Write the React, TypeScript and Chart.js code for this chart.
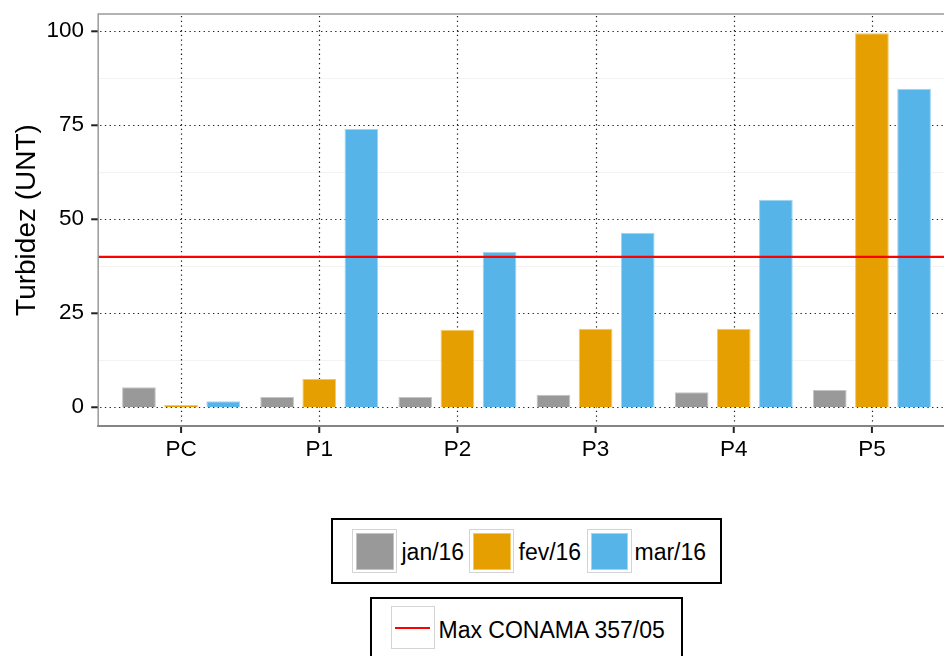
import React, { useEffect, useRef } from "react";
import { Chart, registerables } from "chart.js";

Chart.register(...registerables);

const CATEGORIES = ["PC", "P1", "P2", "P3", "P4", "P5"];
const SERIES_LABELS = ["jan/16", "fev/16", "mar/16"];
const JAN = [5.3, 2.7, 2.7, 3.35, 4.0, 4.6];
const FEV = [0.6, 7.5, 20.6, 20.9, 20.9, 99.5];
const MAR = [1.6, 74.0, 41.3, 46.4, 55.2, 84.7];
const Y_TICKS = [0, 25, 50, 75, 100];
const Y_MINOR = [12.5, 37.5, 62.5, 87.5];
const LIMIT = 40;
const LIMIT_LABEL = "Max CONAMA 357/05";
const Y_TITLE = "Turbidez (UNT)";

const COLORS = ["#999999", "#E69F00", "#56B4E9"];
const EDGES = ["#c4c4c4", "#f2c866", "#9fd4f3"];
const FONT = "'Liberation Sans', Arial, sans-serif";

const panelPlugin = {
  id: "panelPlugin",
  beforeDatasetsDraw(chart: any) {
    const { ctx, chartArea, scales } = chart;
    const x = scales.x;
    const y = scales.y;
    const cw = x.getPixelForValue(1) - x.getPixelForValue(0);
    const L = x.getPixelForValue(0) - 0.6 * cw;
    const R = x.getPixelForValue(CATEGORIES.length - 1) + 0.6 * cw;
    const T = chartArea.top;
    const B = chartArea.bottom;
    ctx.save();
    ctx.strokeStyle = "#f3f3f3";
    ctx.lineWidth = 1.2;
    Y_MINOR.forEach((v) => {
      const py = Math.round(y.getPixelForValue(v)) + 0.5;
      ctx.beginPath();
      ctx.moveTo(L, py);
      ctx.lineTo(R, py);
      ctx.stroke();
    });
    ctx.strokeStyle = "#1a1a1a";
    ctx.lineWidth = 1.2;
    ctx.setLineDash([1.3, 3.4]);
    Y_TICKS.forEach((v) => {
      const py = Math.round(y.getPixelForValue(v)) + 0.5;
      ctx.beginPath();
      ctx.moveTo(L + 2, py);
      ctx.lineTo(R, py);
      ctx.stroke();
    });
    CATEGORIES.forEach((_, i) => {
      const px = Math.round(x.getPixelForValue(i)) + 0.5;
      ctx.beginPath();
      ctx.moveTo(px, T + 2);
      ctx.lineTo(px, B);
      ctx.stroke();
    });
    ctx.restore();
  },
  afterDatasetsDraw(chart: any) {
    const { ctx, chartArea, scales } = chart;
    const x = scales.x;
    const y = scales.y;
    const cw = x.getPixelForValue(1) - x.getPixelForValue(0);
    const L = x.getPixelForValue(0) - 0.6 * cw;
    const R = x.getPixelForValue(CATEGORIES.length - 1) + 0.6 * cw;
    const T = chartArea.top;
    const B = chartArea.bottom;
    ctx.save();
    const ly = y.getPixelForValue(LIMIT);
    ctx.strokeStyle = "#ff0000";
    ctx.lineWidth = 2.2;
    ctx.beginPath();
    ctx.moveTo(L, ly);
    ctx.lineTo(R, ly);
    ctx.stroke();
    ctx.strokeStyle = "#9a9a9a";
    ctx.lineWidth = 1.5;
    ctx.beginPath();
    ctx.moveTo(R, T);
    ctx.lineTo(L, T);
    ctx.lineTo(L, B);
    ctx.stroke();
    ctx.strokeStyle = "#858585";
    ctx.lineWidth = 2;
    ctx.beginPath();
    ctx.moveTo(L - 1, B);
    ctx.lineTo(R, B);
    ctx.stroke();
    ctx.strokeStyle = "#222";
    ctx.lineWidth = 2;
    Y_TICKS.forEach((v) => {
      const py = y.getPixelForValue(v);
      ctx.beginPath();
      ctx.moveTo(L - 7, py);
      ctx.lineTo(L - 0.5, py);
      ctx.stroke();
    });
    CATEGORIES.forEach((_, i) => {
      const px = x.getPixelForValue(i);
      ctx.beginPath();
      ctx.moveTo(px, B + 1);
      ctx.lineTo(px, B + 7);
      ctx.stroke();
    });
    ctx.restore();
  },
};

function ChartCanvas() {
  const ref = useRef<HTMLCanvasElement | null>(null);
  useEffect(() => {
    if (!ref.current) return;
    const series = [JAN, FEV, MAR];
    const chart = new Chart(ref.current, {
      type: "bar",
      data: {
        labels: CATEGORIES,
        datasets: series.map((d, i) => ({
          label: SERIES_LABELS[i],
          data: d,
          backgroundColor: COLORS[i],
          borderColor: EDGES[i],
          borderWidth: 1,
          categoryPercentage: 0.915,
          barPercentage: 0.8,
        })),
      },
      options: {
        responsive: false,
        animation: false,
        devicePixelRatio: 1,
        layout: { padding: { left: 0, top: 14, right: 3, bottom: 0 } },
        plugins: { legend: { display: false }, tooltip: { enabled: false } },
        scales: {
          x: {
            type: "category",
            offset: true,
            grid: { display: false, drawTicks: false },
            border: { display: false },
            ticks: {
              color: "#000",
              font: { family: FONT, size: 22.5 },
              padding: 10.5,
              maxRotation: 0,
              autoSkip: false,
            },
            afterFit(scale: any) {
              scale.height = 44;
              scale.paddingLeft = 0;
              scale.paddingRight = 0;
            },
          },
          y: {
            min: -4.98,
            max: 104.6,
            grid: { display: false, drawTicks: false },
            border: { display: false },
            afterBuildTicks(scale: any) {
              scale.ticks = Y_TICKS.map((v) => ({ value: v }));
            },
            ticks: {
              color: "#000",
              font: { family: FONT, size: 22.5 },
              padding: 28,
            },
            title: {
              display: true,
              text: Y_TITLE,
              color: "#000",
              font: { family: FONT, size: 28 },
              padding: { top: 10, bottom: 0 },
            },
            afterFit(scale: any) {
              scale.width = 112;
              scale.paddingTop = 0;
              scale.paddingBottom = 0;
            },
          },
        },
      },
      plugins: [panelPlugin],
    });
    return () => chart.destroy();
  }, []);
  return (
    <canvas
      ref={ref}
      width={944}
      height={470}
      style={{ position: "absolute", left: 0, top: 0, width: 944, height: 470 }}
    />
  );
}

const keyOuter = (left: number, top: number, w: number, h: number): React.CSSProperties => ({
  position: "absolute",
  left,
  top,
  width: w,
  height: h,
  boxSizing: "border-box",
  border: "1.5px solid #d4d4d4",
  background: "#fff",
});

const textStyle = (left: number, top: number): React.CSSProperties => ({
  position: "absolute",
  left,
  top,
  fontSize: 23,
  lineHeight: "26px",
  color: "#000",
  whiteSpace: "nowrap",
});

export default function App() {
  const keyLefts = [352, 469, 586.5];
  const textLefts = [401.5, 518.5, 634.5];
  return (
    <div
      style={{
        position: "absolute",
        left: 0,
        top: 0,
        width: 944,
        height: 656,
        overflow: "hidden",
        background: "#fff",
        fontFamily: FONT,
      }}
    >
      <ChartCanvas />
      <div
        style={{
          position: "absolute",
          left: 331,
          top: 518,
          width: 391,
          height: 66,
          boxSizing: "border-box",
          border: "2px solid #000",
        }}
      />
      {SERIES_LABELS.map((lab, i) => (
        <React.Fragment key={lab}>
          <div style={keyOuter(keyLefts[i], 529, 45, 44)} />
          <div
            style={{
              position: "absolute",
              left: keyLefts[i] + 4,
              top: 532.5,
              width: 37.5,
              height: 37.5,
              boxSizing: "border-box",
              background: COLORS[i],
              border: `1px solid ${EDGES[i]}`,
            }}
          />
          <div style={textStyle(textLefts[i], 539)}>{lab}</div>
        </React.Fragment>
      ))}
      <div
        style={{
          position: "absolute",
          left: 370,
          top: 597,
          width: 313,
          height: 80,
          boxSizing: "border-box",
          border: "2px solid #000",
        }}
      />
      <div style={keyOuter(390.5, 606, 44.5, 43)} />
      <div
        style={{
          position: "absolute",
          left: 395,
          top: 627,
          width: 35,
          height: 2,
          background: "#ff0000",
        }}
      />
      <div style={textStyle(438.5, 617)}>{LIMIT_LABEL}</div>
    </div>
  );
}
